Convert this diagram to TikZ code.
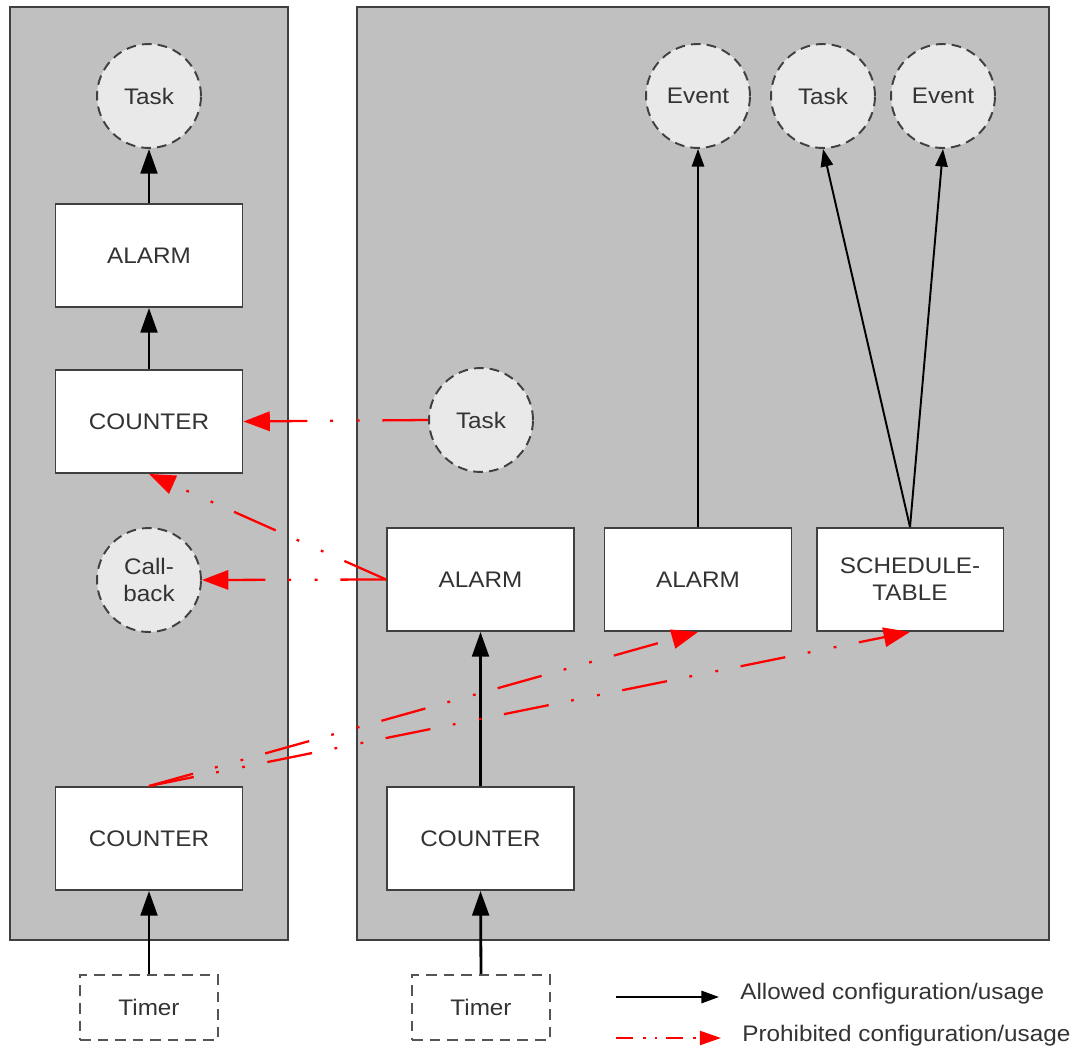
\documentclass[tikz,border=0pt]{standalone}
\usepackage{fontspec}
\setmainfont[FakeStretch=1.08]{Liberation Sans}
\usetikzlibrary{arrows.meta}
\definecolor{panelgray}{HTML}{C0C0C0}
\definecolor{circfill}{HTML}{E9E9E9}
\definecolor{edgecol}{HTML}{404040}
\definecolor{txtcol}{HTML}{333333}
\definecolor{prohib}{HTML}{FF0000}
\definecolor{timercol}{HTML}{555555}
\begin{document}
\begin{tikzpicture}[x=0.02cm,y=-0.02cm,
  every node/.style={font=\fontsize{12.8}{15.5}\selectfont, text=txtcol},
  panel/.style={draw=edgecol, fill=panelgray, line width=1.1pt, inner sep=0pt},
  blk/.style={draw=edgecol, fill=white, line width=1.1pt, minimum width=3.74cm, minimum height=2.06cm, inner sep=0pt, align=center},
  obj/.style={circle, draw=edgecol, fill=circfill, line width=1.1pt, dash pattern=on 5.5pt off 3.5pt, minimum size=2.08cm, inner sep=0pt, align=center},
  timerbox/.style={draw=timercol, fill=white, line width=1.1pt, dash pattern=on 6pt off 4pt, minimum width=2.76cm, minimum height=1.3cm, inner sep=0pt},
  okarrow/.style={draw=black, line width=1.6pt, -{Triangle[length=14pt,width=9.5pt]}},
  okthin/.style={draw=black, line width=1.1pt, -{Triangle[length=10pt,width=7pt]}},
  badarrow/.style={draw=prohib, line width=1.3pt, dash pattern=on 26pt off 13pt on 1.6pt off 13.5pt on 1.6pt off 13pt, -{Triangle[length=15pt,width=11pt]}},
  badlegend/.style={draw=prohib, line width=1.1pt, dash pattern=on 9.5pt off 6pt on 1.3pt off 5.5pt on 1.3pt off 5pt, -{Triangle[length=12pt,width=8pt]}},
  legtext/.style={anchor=west, inner sep=0pt},
]
\useasboundingbox (0,0) rectangle (1077,1050);
\fill[white] (0,0) rectangle (1077,1050);

% panels
\node[panel, minimum width=5.56cm, minimum height=18.66cm] (lp) at (149,473.5) {};
\node[panel, minimum width=13.84cm, minimum height=18.66cm] (rp) at (703,473.5) {};

% left panel
\node[obj] (ltask) at (149,96) {Task};
\node[blk] (lalarm) at (149,255.5) {ALARM};
\node[blk] (lcounter) at (149,421.5) {COUNTER};
\node[obj] (callback) at (149,580) {Call-\\back};
\node[blk] (lcounter2) at (149,838.5) {COUNTER};
\node[timerbox] (ltimer) at (149,1007.5) {Timer};

% right panel
\node[obj] (ev1) at (698,96) {Event};
\node[obj] (task2) at (823,96) {Task};
\node[obj] (ev2) at (943,96) {Event};
\node[obj] (rtask) at (481,420) {Task};
\node[blk] (ralarm) at (480.5,579.5) {ALARM};
\node[blk] (alarm2) at (698,579.5) {ALARM};
\node[blk] (sched) at (910,579.5) {SCHEDULE-\\TABLE};
\node[blk] (rcounter) at (480.5,838.5) {COUNTER};
\node[timerbox] (rtimer) at (481,1007.5) {Timer};

% allowed
\draw[okarrow] (lalarm.north) -- (ltask.south);
\draw[okarrow] (lcounter.north) -- (lalarm.south);
\draw[okarrow] (ltimer.north) -- (lcounter2.south);
\draw[okarrow] (rtimer.north) -- (rcounter.south);
\draw[okarrow] (rcounter.north) -- (ralarm.south);
\draw[okthin] (alarm2.north) -- (ev1.south);
\draw[okthin] (sched.north) -- (task2.south);
\draw[okthin] (sched.north) -- (ev2.south);

% prohibited
\draw[badarrow] (rtask.west) -- (lcounter.east);
\draw[badarrow] (ralarm.west) -- (callback.east);
\draw[badarrow] (ralarm.west) -- (lcounter.south);
\draw[badarrow] (lcounter2.north) -- (alarm2.south);
\draw[badarrow] (lcounter2.north) -- (sched.south);

% legend
\coordinate (la1) at (616,997);
\coordinate (la2) at (719,997);
\coordinate (lb1) at (616,1038);
\coordinate (lb2) at (721,1038);
\draw[okthin] (la1) -- (la2);
\draw[badlegend] (lb1) -- (lb2);
\node[legtext] (legok) at (740,994) {Allowed configuration/usage};
\node[legtext] (legbad) at (742,1036) {Prohibited configuration/usage};
\end{tikzpicture}
\end{document}
